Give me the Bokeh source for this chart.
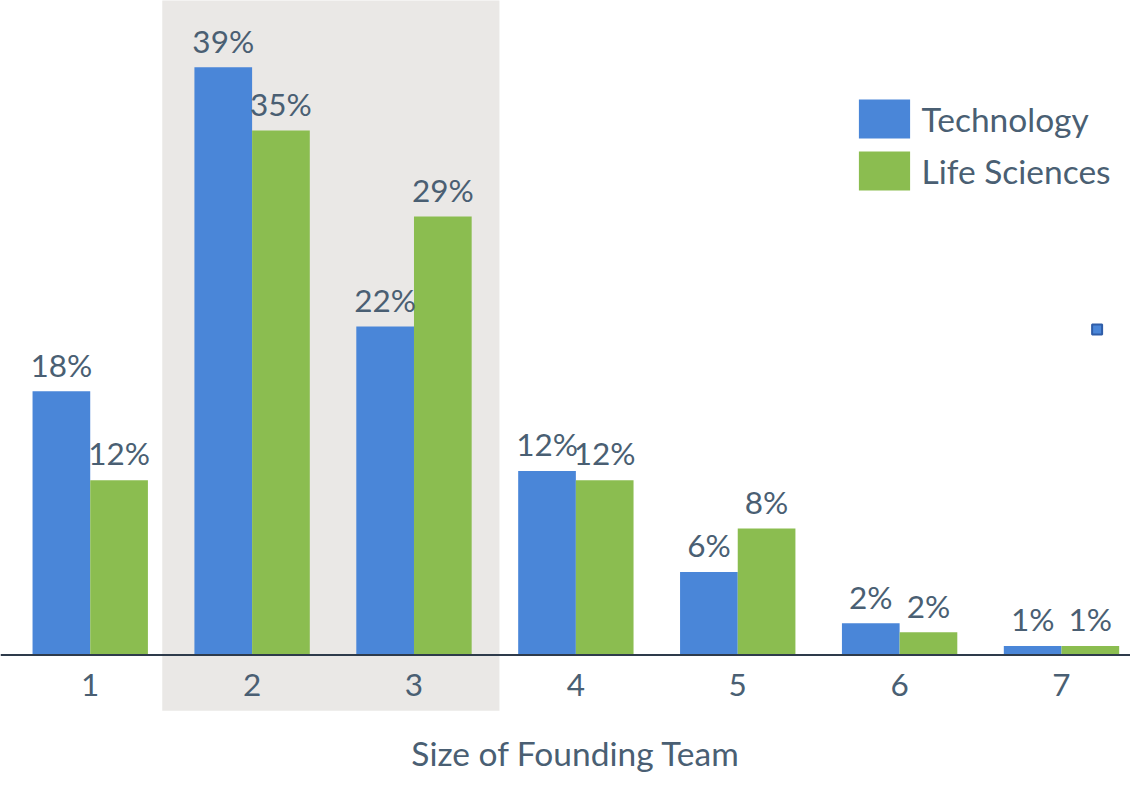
from bokeh.plotting import figure
from bokeh.models import Range1d, Span, Legend, LegendItem, ColumnDataSource
from bokeh.core.properties import value
from bokeh.embed import file_html
from bokeh.resources import INLINE

# ---- data ----
team_size = [1, 2, 3, 4, 5, 6, 7]
tick_labels = ["1", "2", "3", "4", "5", "6", "7"]
technology = [17.5, 39.0, 21.8, 12.2, 5.5, 2.1, 0.6]
life_sciences = [11.6, 34.8, 29.1, 11.6, 8.4, 1.5, 0.6]
technology_labels = ["18%", "39%", "22%", "12%", "6%", "2%", "1%"]
life_sciences_labels = ["12%", "35%", "29%", "12%", "8%", "2%", "1%"]
highlight_sizes = [2, 3]
stray_marker_x = [7.22]
stray_marker_y = [21.6]
x_title = "Size of Founding Team"

# ---- geometry / style ----
W, H = 1130, 773
SX, SY = W / 1146, H / 789
PX_X = 164.17 * SX          # pixels per category
PX_Y = 15.38 * SY           # pixels per percentage point
BASE = 668 * SY             # baseline pixel from top
TXT_FIX = 11.5              # renderer baseline correction (px)
X_START = 1 - 91 * SX / PX_X
Y_END = BASE / PX_Y
Y_START = -(H - BASE) / PX_Y

BLUE = "#4A86D8"
GREEN = "#8BBD50"
TEXT = "#4A5F73"
FONT = "Lato"
FS = "31.5px"
FS_BIG = "33.5px"
BAR_W = 58.5 / 164.17
OFF = BAR_W / 2


def up(px_ref, fix=TXT_FIX):
    """data offset for a distance given in reference pixels (plus baseline fix)"""
    return (px_ref * SY + fix) / PX_Y


p = figure(width=W, height=H, output_backend="svg", toolbar_location=None,
           x_range=Range1d(X_START, X_START + W / PX_X),
           y_range=Range1d(Y_START, Y_END),
           min_border=0, min_border_left=0, min_border_right=0,
           min_border_top=0, min_border_bottom=0)
p.axis.visible = False
p.grid.visible = False
p.outline_line_color = None
p.background_fill_color = "white"
p.border_fill_color = "white"

# highlight band for team sizes 2-3
p.quad(left=[min(highlight_sizes) - 0.555], right=[max(highlight_sizes) + 0.528],
       bottom=[-57 / 15.38], top=[Y_END + 1], fill_color="#EAE8E6", line_color=None)

src = ColumnDataSource(dict(
    x_t=[x - OFF for x in team_size], x_l=[x + OFF for x in team_size],
    tech=technology, life=life_sciences,
    tech_y=[v + up(15.5) for v in technology],
    life_y=[v + up(15.5) for v in life_sciences],
    tech_lab=technology_labels, life_lab=life_sciences_labels,
))

r_t = p.vbar(x="x_t", top="tech", bottom=0, width=BAR_W, source=src,
             fill_color=BLUE, line_color=None)
r_l = p.vbar(x="x_l", top="life", bottom=0, width=BAR_W, source=src,
             fill_color=GREEN, line_color=None)

p.text(x="x_t", y="tech_y", text="tech_lab", source=src, text_font=value(FONT),
       text_font_size=FS, text_color=TEXT, text_align="center",
       text_baseline="alphabetic")
p.text(x="x_l", y="life_y", text="life_lab", source=src, text_font=value(FONT),
       text_font_size=FS, text_color=TEXT, text_align="center",
       text_baseline="alphabetic")

# axis line
p.add_layout(Span(location=0, dimension="width", line_color="#2E3B4B", line_width=2))

# category tick labels (digit bottoms ~42 ref px below axis)
p.text(x=team_size, y=[up(-42)] * len(team_size), text=tick_labels,
       text_font=value(FONT), text_font_size=FS, text_color=TEXT,
       text_align="center", text_baseline="alphabetic")

# x-axis title (baseline ~112 ref px below axis)
p.text(x=[(team_size[0] + team_size[-1]) / 2], y=[up(-112)], text=[x_title],
       text_font=value(FONT), text_font_size=FS_BIG, text_color=TEXT,
       text_align="center", text_baseline="alphabetic")

# stray marker
p.scatter(x=stray_marker_x, y=stray_marker_y, marker="square", size=10,
          fill_color=BLUE, line_color="#2F5DA8", line_width=2)

legend = Legend(items=[LegendItem(label="Technology", renderers=[r_t]),
                       LegendItem(label="Life Sciences", renderers=[r_l])],
                location=(851.5, 578), orientation="vertical",
                glyph_width=64, glyph_height=49, spacing=3, padding=0, margin=0,
                label_standoff=6, label_text_font=FONT, label_text_font_size=FS_BIG,
                label_text_color=TEXT, border_line_color=None,
                background_fill_alpha=0)
p.add_layout(legend)

open("out.html", "w").write(file_html(p, INLINE))
